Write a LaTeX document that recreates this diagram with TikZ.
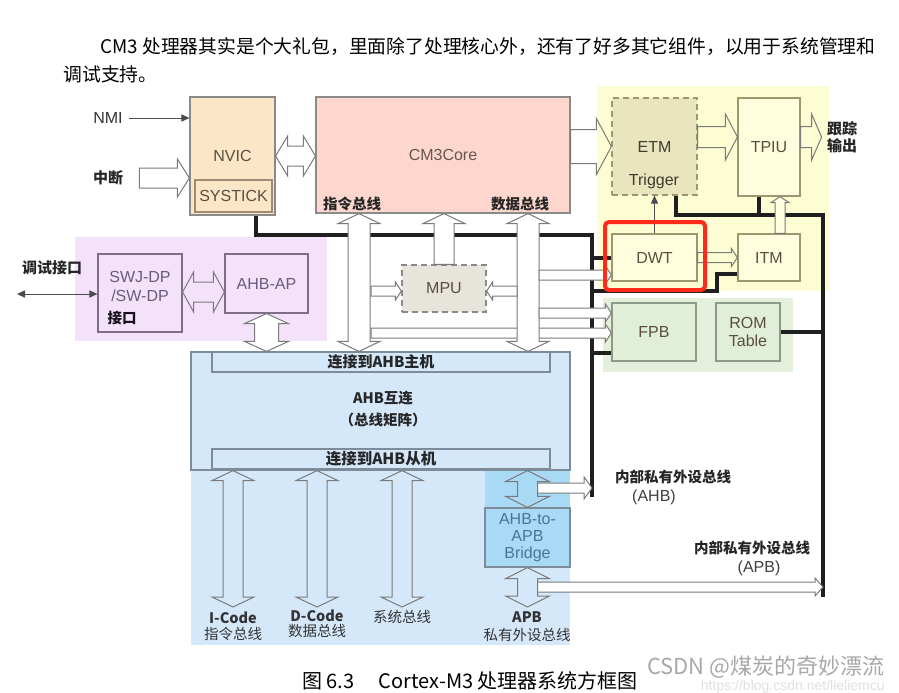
\documentclass[tikz,border=0pt]{standalone}
\usepackage{fontspec}
\setmainfont{Liberation Sans}
\newfontfamily\cjk{Noto Sans CJK SC}
\usetikzlibrary{arrows.meta,calc}

\definecolor{nvicfill}{HTML}{FCE6C8}
\definecolor{tickline}{HTML}{A08C74}
\definecolor{corefill}{HTML}{FDD6CD}
\definecolor{coretext}{HTML}{6A5550}
\definecolor{tracefill}{HTML}{FDFDD3}
\definecolor{tbox}{HTML}{FEFEDF}
\definecolor{etmfill}{HTML}{E9E5BF}
\definecolor{etmline}{HTML}{9C976F}
\definecolor{dbgfill}{HTML}{F3E2FA}
\definecolor{dbgline}{HTML}{7E6E86}
\definecolor{dbgtext}{HTML}{6A5A7E}
\definecolor{romzone}{HTML}{E4F0DB}
\definecolor{romfill}{HTML}{E1EED8}
\definecolor{romline}{HTML}{8E9A84}
\definecolor{mpufill}{HTML}{E7E4DC}
\definecolor{ahbfill}{HTML}{D5E8FA}
\definecolor{ahbline}{HTML}{7E8C9A}
\definecolor{brgfill}{HTML}{A8D9F5}
\definecolor{brgtext}{HTML}{4C7494}
\definecolor{boxline}{HTML}{8A8A8A}
\definecolor{arrline}{HTML}{7A7A7A}
\definecolor{labtext}{HTML}{5A4E40}
\definecolor{hired}{HTML}{FF2A1A}
\definecolor{wmark}{HTML}{A8A8A8}

\begin{document}
\begin{tikzpicture}[x=0.5pt, y=-0.5pt,
  box/.style={draw=boxline, line width=0.6pt, inner sep=0pt, align=center, text=labtext, font=\fontsize{8}{9.5}\selectfont},
  sz/.style 2 args={minimum width=#1*0.5pt, minimum height=#2*0.5pt},
  lbl/.style={inner sep=0pt, align=center, font=\fontsize{8}{9.5}\selectfont},
  cn/.style={inner sep=0pt, align=center, text=black!85, font=\cjk\bfseries\fontsize{7.25}{8.5}\selectfont},
  cnr/.style={inner sep=0pt, align=center, text=black!80, font=\cjk\fontsize{7.25}{8.5}\selectfont},
  bus/.style={line width=2pt, draw=black!88},
  tarr/.style={-{Triangle[length=4pt, width=3.6pt]}, line width=0.5pt, draw=black!70},
  hw/.store in=\harhw, hh/.store in=\harhh, hl/.store in=\harhl,
  hw=5pt, hh=10pt, hl=5pt,
  hollow/.style={draw=arrline, fill=#1, line width=0.5pt, line join=miter,
    to path={let \p1=(\tikztostart), \p2=(\tikztotarget), \n1={atan2(\y2-\y1,\x2-\x1)} in
      ($(\p1)+({\n1+90}:\harhw)$) -- ($(\p2)+({\n1+180}:\harhl)+({\n1+90}:\harhw)$)
      -- ($(\p2)+({\n1+180}:\harhl)+({\n1+90}:\harhh)$) -- (\p2)
      -- ($(\p2)+({\n1+180}:\harhl)+({\n1-90}:\harhh)$)
      -- ($(\p2)+({\n1+180}:\harhl)+({\n1-90}:\harhw)$)
      -- ($(\p1)+({\n1-90}:\harhw)$) -- cycle}},
  hollow/.default=white,
  dhollow/.style={draw=arrline, fill=#1, line width=0.5pt, line join=miter,
    to path={let \p1=(\tikztostart), \p2=(\tikztotarget), \n1={atan2(\y2-\y1,\x2-\x1)} in
      ($(\p1)+({\n1}:\harhl)+({\n1+90}:\harhw)$) -- ($(\p2)+({\n1+180}:\harhl)+({\n1+90}:\harhw)$)
      -- ($(\p2)+({\n1+180}:\harhl)+({\n1+90}:\harhh)$) -- (\p2)
      -- ($(\p2)+({\n1+180}:\harhl)+({\n1-90}:\harhh)$)
      -- ($(\p2)+({\n1+180}:\harhl)+({\n1-90}:\harhw)$)
      -- ($(\p1)+({\n1}:\harhl)+({\n1-90}:\harhw)$)
      -- ($(\p1)+({\n1}:\harhl)+({\n1-90}:\harhh)$) -- (\p1)
      -- ($(\p1)+({\n1}:\harhl)+({\n1+90}:\harhh)$) -- cycle}},
  dhollow/.default=white
]
\fill[white] (0,0) rectangle (899,692);
\useasboundingbox (0,0) rectangle (899,692);

% text above the figure
\node[anchor=base west, inner sep=0pt, font=\cjk\fontsize{9.4}{11}\selectfont] (intro1) at (100,53) {CM3 处理器其实是个大礼包，里面除了处理核心外，还有了好多其它组件，以用于系统管理和};
\node[anchor=base west, inner sep=0pt, font=\cjk\fontsize{9.4}{11}\selectfont] (intro2) at (63,81) {调试支持。};

% zones
\fill[tracefill] (597,86) rectangle (829,291);
\fill[romzone] (603,298) rectangle (793,372);
\fill[dbgfill] (75,237) rectangle (327,341);
\fill[ahbfill] (191,469) rectangle (570,645);
\fill[brgfill] (485,469) rectangle (570,564);

% blocks
\node[box, fill=nvicfill, sz={85}{118}] (nvic) at (232.5,156) {NVIC};
\node[box, draw=tickline, fill=nvicfill, sz={77}{32}] (systick) at (233.5,196) {SYSTICK};
\node[box, fill=corefill, sz={254}{116}, text=coretext] (core) at (443,155) {CM3Core};
\node[cn] (ibuslab) at (352,204) {指令总线};
\node[cn] (dbuslab) at (520,204) {数据总线};

\node[box, draw=etmline, dash pattern=on 3pt off 2pt, fill=etmfill, sz={85}{97}, text=black!60!etmline] (etm) at (654.5,146.5) {ETM};
\node[lbl, text=black!60!etmline] (trig) at (654,181) {Trigger};
\node[box, draw=etmline, fill=tbox, sz={62}{98}] (tpiu) at (769,147) {TPIU};
\node[box, draw=etmline, fill=tbox, sz={85}{47}] (dwt) at (654.5,257.5) {DWT};
\node[box, draw=etmline, fill=tbox, sz={62}{47}] (itm) at (769,257.5) {ITM};
\node[cn, font=\cjk\bfseries\fontsize{7.5}{8.5}\selectfont] (tout) at (842,137) {跟踪\\输出};

\node[box, draw=romline, fill=romfill, sz={84}{58}] (fpb) at (654,332) {FPB};
\node[box, draw=romline, fill=romfill, sz={64}{58}, font=\fontsize{8}{9}\selectfont] (rom) at (748,332) {ROM\\Table};

\node[box, draw=dbgline, fill=dbgfill, sz={84}{78}] (swj) at (140,293) {};
\node[lbl, text=dbgtext] (swjlab) at (140,286) {SWJ-DP\\/SW-DP};
\node[cn, text=black!80!dbgtext] (swjif) at (122,318) {接口};
\node[box, draw=dbgline, fill=dbgfill, sz={83}{59}, text=dbgtext] (ahbap) at (266.5,283.5) {AHB-AP};
\node[cn, font=\cjk\bfseries\fontsize{7.5}{8.5}\selectfont] (dbg) at (52,268) {调试接口};

\node[box, dash pattern=on 3pt off 2pt, fill=mpufill, sz={84}{47}] (mpu) at (444,288.5) {MPU};

\node[box, draw=ahbline, fill=ahbfill, sz={379}{118}] (ahb) at (380.5,411) {};
\node[box, draw=ahbline, fill=ahbfill, sz={338}{20}, font=\cjk\bfseries\fontsize{7.5}{8.5}\selectfont, text=black!85] (ahbm) at (381,362) {连接到AHB主机};
\node[box, draw=ahbline, fill=ahbfill, sz={338}{20}, font=\cjk\bfseries\fontsize{7.75}{8.5}\selectfont, text=black!85] (ahbs) at (381,459) {连接到AHB从机};
\node[cn, font=\cjk\bfseries\fontsize{7.25}{11}\selectfont] (ahblab) at (383,409) {AHB互连\\（总线矩阵）};
\node[box, draw=ahbline, fill=brgfill, sz={85}{59}, text=brgtext, font=\fontsize{8}{8.5}\selectfont] (bridge) at (527.5,537.5) {AHB-to-\\APB\\Bridge};

% outside labels
\node[lbl, text=black!80] (nmi) at (108,118) {NMI};
\node[cn, font=\cjk\bfseries\fontsize{7.5}{8.5}\selectfont] (irq) at (108,178) {中断};
\node[cnr, font=\cjk\fontsize{7.25}{8}\selectfont] (icl) at (233,626) {\bfseries I-Code\\指令总线};
\node[cnr, font=\cjk\fontsize{7.25}{7.5}\selectfont] (dcl) at (317,623.5) {\bfseries D-Code\\数据总线};
\node[cnr] (scl) at (402,617) {系统总线};
\node[cnr, font=\cjk\fontsize{7.25}{9}\selectfont] (apl) at (527,627) {\bfseries APB\\私有外设总线};
\node[cn] (ahbpl) at (673,477) {内部私有外设总线};
\node[lbl, text=black!75] (ahbpn) at (654,497) {(AHB)};
\node[cn] (apbpl) at (752,548) {内部私有外设总线};
\node[lbl, text=black!75] (apbpn) at (759,568) {(APB)};

% free ends of the buses
\coordinate (ppbtop) at (592,235);
\coordinate (ppbbot) at (592,497);
\coordinate (rbtop) at (823,215);
\coordinate (rbbot) at (823,597);
\coordinate (itmk) at (717,291);
\coordinate (nvicL) at ([xshift=-10pt]nvic.south east);
\coordinate (etmL) at ([xshift=-11pt]etm.south east);
\coordinate (tpiuL) at ([xshift=11pt]tpiu.south west);
\coordinate (fpbL) at ([yshift=4.5pt]fpb.south west);
\coordinate (itmL) at ([yshift=4pt]itm.south west);

% private peripheral buses
\draw[bus] (nvicL) |- (ppbtop) -- (ppbbot);
\draw[bus] (ppbtop |- dwt.west) -- (dwt.west);
\draw[bus] (ppbtop |- fpbL) -- (fpbL);
\draw[bus] (ppbtop |- itmk) -- (itmk) |- (itmL);
\draw[bus] (etmL) |- (rbtop) -- (rbbot);
\draw[bus] (tpiuL) -- (tpiuL |- rbtop);
\draw[bus] (rom.east) -- (rom.east -| rbtop);

% rows and columns of the wide arrows
\coordinate (trow) at (0,137);
\coordinate (toutW) at ([xshift=-2.5pt]tout.west);
\coordinate (itmcol) at (780,0);
\coordinate (icolumn) at (359,0);
\coordinate (dcolumn) at (528,0);
\coordinate (mpurowl) at (371,291);
\coordinate (mpurowr) at (517,291);
\coordinate (dwtrow) at (539,275);
\coordinate (fpbrow1) at (539,313);
\coordinate (fpbrow2) at (371,333);
\coordinate (dbgrow) at (0,292);
\coordinate (dbgport) at (17,294);
\coordinate (busend) at (0,607);
\coordinate (ahbrow) at (0,488);
\coordinate (apbrow) at (0,587);
\coordinate (brgR) at ([xshift=5pt]bridge.north);

% interrupts and core
\draw[tarr] ([xshift=3pt]nmi.east) -- (nmi.east -| nvic.west);
\draw[hollow, hw=5pt, hh=9.5pt, hl=6pt] ([xshift=8pt]irq.east) to (irq.east -| nvic.west);
\draw[dhollow, hw=5pt, hh=10pt, hl=6pt] (nvic.east) to (nvic.east -| core.west);

% trace
\draw[hollow=none, hw=8.5pt, hh=14pt, hl=7.5pt] (etm.west -| core.east) to (etm.west);
\draw[hollow=none, hw=5.25pt, hh=11.5pt, hl=6pt] (etm.east |- trow) to (tpiu.west |- trow);
\draw[hollow=none, hw=5.25pt, hh=11.5pt, hl=5pt] (tpiu.east |- trow) to (toutW |- trow);
\draw[tarr] (dwt.north) -- (etm.south);
\draw[hollow=tracefill, hw=2.5pt, hh=4.5pt, hl=3pt] (dwt.east) to (itm.west);
\draw[hollow=tbox, hw=2.5pt, hh=4.5pt, hl=3pt] (itmcol |- itm.north) to (itmcol |- tpiu.south);

% debug port
\draw[tarr, {Triangle[length=4pt, width=3.6pt]}-{Triangle[length=4pt, width=3.6pt]}] (dbgport) -- (dbgport -| swj.west);
\draw[dhollow=dbgfill, hw=5pt, hh=10pt, hl=5.5pt] (swj.east |- dbgrow) to (ahbap.west |- dbgrow);
\draw[dhollow, hw=6pt, hh=11pt, hl=5pt] (ahbap.south) to (ahbap.south |- ahb.north);

% core buses down to the matrix
\draw[hollow, hw=2.5pt, hh=4.5pt, hl=3pt] (fpbrow2) to (fpbrow2 -| fpb.west);
\draw[dhollow, hw=5.5pt, hh=10.5pt, hl=5pt] (icolumn |- core.south) to (icolumn |- ahb.north);
\draw[dhollow, hw=5.5pt, hh=10.5pt, hl=5pt] (dcolumn |- core.south) to (dcolumn |- ahb.north);
\draw[hollow, hw=5pt, hh=10.5pt, hl=5pt] (mpu.north) to (mpu.north |- core.south);
\draw[hollow, hw=2.5pt, hh=4.5pt, hl=3pt] (mpurowl) to (mpurowl -| mpu.west);
\draw[hollow, hw=2.5pt, hh=4.5pt, hl=3pt] (mpurowr) to (mpurowr -| mpu.east);
\draw[hollow, hw=2.5pt, hh=4.5pt, hl=3pt] (dwtrow) to (dwtrow -| dwt.west);
\draw[hollow, hw=2.5pt, hh=4.5pt, hl=3pt] (fpbrow1) to (fpbrow1 -| fpb.west);

% slave side
\draw[dhollow=none, hw=5pt, hh=10.5pt, hl=5pt] (ahb.south -| icl) to (busend -| icl);
\draw[dhollow=none, hw=5pt, hh=10.5pt, hl=5pt] (ahb.south -| dcl) to (busend -| dcl);
\draw[dhollow=none, hw=5pt, hh=10.5pt, hl=5pt] (ahb.south -| scl) to (busend -| scl);
\draw[dhollow=none, hw=5pt, hh=11pt, hl=5.5pt] (ahb.south -| bridge) to (bridge.north);
\draw[dhollow=none, hw=5pt, hh=11pt, hl=5.5pt] (bridge.south) to (busend -| bridge);
\draw[hollow, hw=2.5pt, hh=5.5pt, hl=4pt] (brgR |- ahbrow) to (ppbbot |- ahbrow);
\draw[hollow, hw=2.5pt, hh=4.5pt, hl=4pt] (brgR |- apbrow) to (rbbot |- apbrow);

% highlight
\draw[hired, line width=2pt, rounded corners=2pt] (605,222) rectangle (705,290);

% caption and watermark
\node[anchor=base west, inner sep=0pt, font=\cjk\fontsize{10}{12}\selectfont] (cap) at (302,688) {图 6.3\hspace{12pt}Cortex-M3 处理器系统方框图};
\node[anchor=base east, inner sep=0pt, text=wmark, font=\cjk\fontsize{11}{12}\selectfont] (mark) at (885,674) {CSDN @煤炭的奇妙漂流};
\node[anchor=base east, inner sep=0pt, text=black!12, font=\fontsize{7}{8}\selectfont] (url) at (885,690) {https://blog.csdn.net/lieliemcu};
\end{tikzpicture}
\end{document}
